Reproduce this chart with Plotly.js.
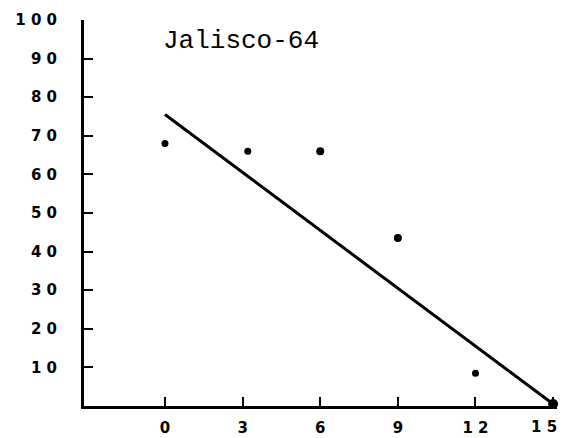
<!DOCTYPE html>
<html>
<head>
<meta charset="utf-8">
<script src="https://cdn.plot.ly/plotly-3.0.1.min.js"></script>
<style>html,body{margin:0;padding:0;background:#fff;}#chart{width:562px;height:438px;}</style>
</head>
<body>
<div id="chart"></div>
<script>
const chartTitle = "Jalisco-64";
const xObs = [0, 3.2, 6, 9, 12, 15];
const yObs = [68, 66, 66, 43.5, 8.5, 0.5];
const xFit = [0, 15];
const yFit = [75.5, 0.5];
const xTickVals = [0, 3, 6, 9, 12, 15];
const xTickText = ["0", "3", "6", "9", "1 2", "1 5"];
const yTickVals = [10, 20, 30, 40, 50, 60, 70, 80, 90, 100];
const yTickText = ["1 0", "2 0", "3 0", "4 0", "5 0", "6 0", "7 0", "8 0", "9 0", "1 0 0"];

const traces = [
  {x: xFit, y: yFit, mode: "lines", line: {color: "#000", width: 3}, cliponaxis: false, hoverinfo: "skip"},
  {x: xObs, y: yObs, mode: "markers", marker: {color: "#000", opacity: 1, line: {width: 0}, size: [7, 7, 8, 8, 7, 10]}, cliponaxis: false}
];

const tickFont = {family: "DejaVu Sans", size: 15, color: "#000", weight: "bold"};
const lastIdx = xTickVals.length - 1;
const layout = {
  width: 562, height: 438,
  margin: {l: 84, r: 5, t: 20, b: 32},
  paper_bgcolor: "#fff", plot_bgcolor: "#fff",
  showlegend: false,
  xaxis: {
    range: [-3.13, 15.15], showgrid: false, zeroline: false,
    showline: true, linecolor: "#000", linewidth: 3,
    ticks: "inside", ticklen: 9, tickwidth: 2, tickcolor: "#000",
    tickvals: xTickVals,
    ticktext: xTickText.map((t, i) => i === lastIdx ? "" : t),
    tickfont: tickFont,
    ticklabelstandoff: 6
  },
  yaxis: {
    range: [0, 100], showgrid: false, zeroline: false,
    showline: true, linecolor: "#000", linewidth: 3,
    ticks: "inside", ticklen: 9, tickwidth: 2, tickcolor: "#000",
    tickvals: yTickVals, ticktext: yTickText, tickfont: tickFont,
    ticklabelstandoff: 21, ticklabeloverflow: "allow"
  },
  annotations: [
    {
      text: chartTitle, xref: "x", yref: "y", x: -0.15, y: 94.5,
      xanchor: "left", yanchor: "middle", showarrow: false,
      font: {family: "Liberation Mono", size: 26, color: "#000"}
    },
    {
      text: xTickText[lastIdx], xref: "x", yref: "paper", x: xTickVals[lastIdx], y: 0,
      xanchor: "right", yanchor: "middle", xshift: 6, yshift: -21, showarrow: false,
      font: tickFont
    }
  ]
};
Plotly.newPlot("chart", traces, layout, {displayModeBar: false, staticPlot: true});
</script>
</body>
</html>
